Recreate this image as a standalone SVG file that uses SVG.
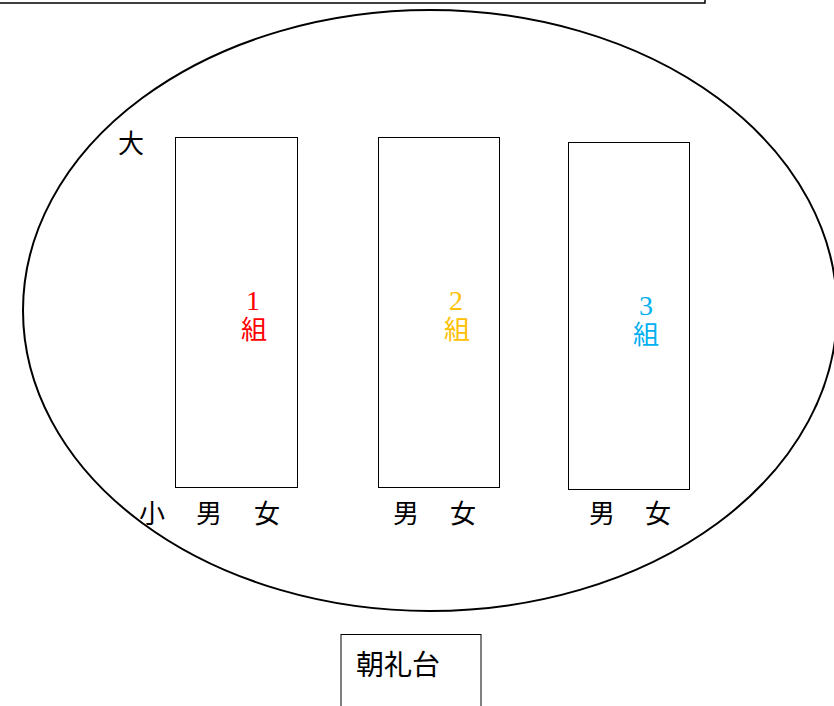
<svg xmlns="http://www.w3.org/2000/svg" width="834" height="706" viewBox="0 0 834 706">
<style>
.t{font-family:"Noto Sans CJK JP","Noto Sans",sans-serif;font-size:26px;fill:#000}
.n{font-family:"Liberation Serif","Noto Sans CJK JP",serif;font-size:28px}
.k{font-family:"Noto Sans CJK JP",sans-serif;font-size:26px}
.box{fill:#fff;stroke:#000;stroke-width:1}
</style>
<rect width="834" height="706" fill="#fff"/>
<g id="top-frame"><rect x="-2" y="-20" width="707" height="23" fill="none" stroke="#000" stroke-width="1.5"/></g>
<g id="field"><ellipse cx="430" cy="310.5" rx="407" ry="300.5" fill="none" stroke="#000" stroke-width="2"/></g>
<g id="labels-size">
<text class="t" x="118" y="153">大</text>
<text class="t" x="139" y="523">小</text>
</g>
<g id="class1">
<rect class="box" x="175.5" y="137.5" width="122" height="350"/>
<text text-anchor="middle" fill="#ff0000"><tspan class="n" x="253" y="310">1</tspan><tspan class="k" x="254" y="339">組</tspan></text>
<text class="t" x="196" y="523">男</text>
<text class="t" x="254" y="523">女</text>
</g>
<g id="class2">
<rect class="box" x="378.5" y="137.5" width="121" height="350"/>
<text text-anchor="middle" fill="#ffc000"><tspan class="n" x="456" y="310">2</tspan><tspan class="k" x="457" y="339">組</tspan></text>
<text class="t" x="393" y="523">男</text>
<text class="t" x="450" y="523">女</text>
</g>
<g id="class3">
<rect class="box" x="568.5" y="142.5" width="121" height="347"/>
<text text-anchor="middle" fill="#00b0f0"><tspan class="n" x="646" y="315">3</tspan><tspan class="k" x="646" y="344">組</tspan></text>
<text class="t" x="589" y="523">男</text>
<text class="t" x="645" y="523">女</text>
</g>
<g id="podium">
<rect class="box" x="341" y="634.5" width="140" height="80" stroke-width="1.5"/>
<text class="t" x="356" y="675" style="font-size:28px">朝礼台</text>
</g>
<g id="connectors"></g>
</svg>
